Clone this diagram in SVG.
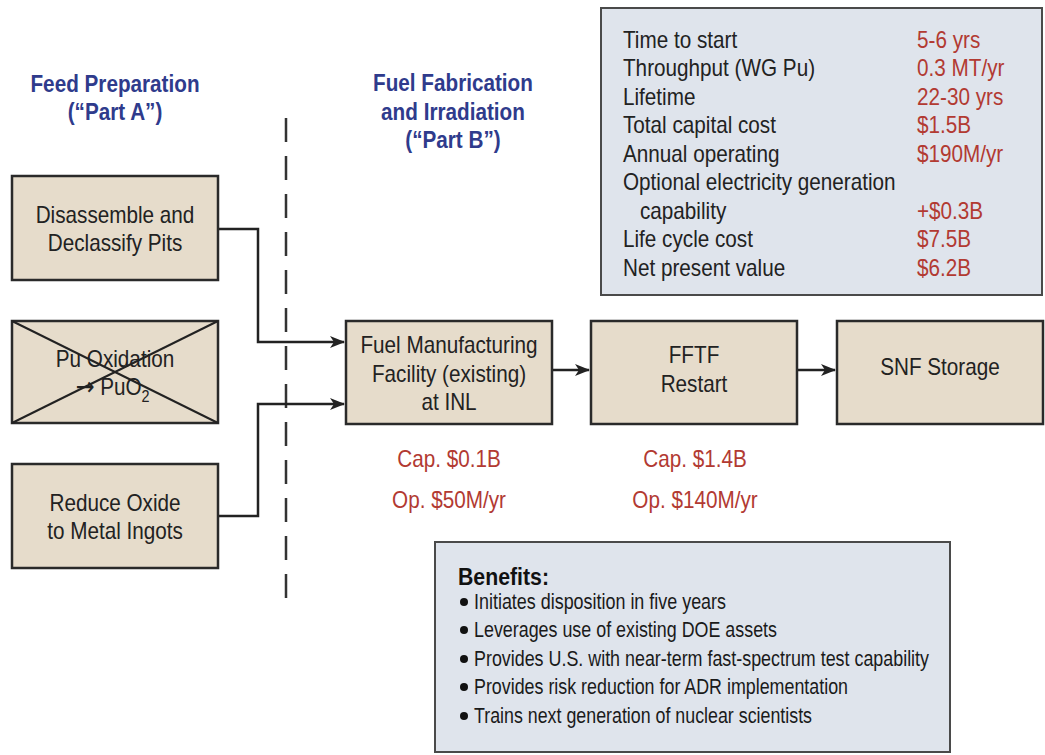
<svg xmlns="http://www.w3.org/2000/svg" width="1045" height="755" viewBox="0 0 1045 755">
<style>
  text { font-family: "Liberation Sans", Arial, sans-serif; }
  .box { fill: #e6dccb; stroke: #2a2a2a; stroke-width: 2.5; }
  .panel { fill: #dfe4ec; stroke: #4a4a4a; stroke-width: 2; }
  .t { font-size: 23px; fill: #222; }
  .c { text-anchor: middle; }
  .title { font-size: 23px; font-weight: bold; fill: #2f3b8c; text-anchor: middle; }
  .red { font-size: 23px; fill: #b23a32; }
  .b { font-size: 22.5px; fill: #1a1a1a; }
  .conn { fill: none; stroke: #222; stroke-width: 2.5; }
  .x { stroke: #222; stroke-width: 2; }
</style>
<defs>
  <marker id="arr" markerWidth="16" markerHeight="12" refX="14" refY="6" orient="auto" markerUnits="userSpaceOnUse">
    <path d="M0,0 L15,6 L0,12 L4,6 Z" fill="#222"/>
  </marker>
</defs>
<rect width="1045" height="755" fill="#ffffff"/>

<g id="title-a" transform="scale(0.9,1)">
  <text class="title" x="127.8" y="92">Feed Preparation</text>
  <text class="title" x="127.8" y="120">(“Part A”)</text>
</g>
<g id="title-b" transform="scale(0.9,1)">
  <text class="title" x="503.3" y="91">Fuel Fabrication</text>
  <text class="title" x="503.3" y="120">and Irradiation</text>
  <text class="title" x="503.3" y="148">(“Part B”)</text>
</g>

<g id="divider">
  <line x1="286" y1="118" x2="286" y2="612" stroke="#333" stroke-width="2.5" stroke-dasharray="24,14"/>
</g>

<g id="connectors">
  <polyline class="conn" points="218,229 258,229 258,342 344,342" marker-end="url(#arr)"/>
  <polyline class="conn" points="218,516 258,516 258,404 344,404" marker-end="url(#arr)"/>
  <line class="conn" x1="552" y1="370" x2="589" y2="370" marker-end="url(#arr)"/>
  <line class="conn" x1="797" y1="370" x2="835" y2="370" marker-end="url(#arr)"/>
</g>

<g id="disassemble">
  <rect class="box" x="12" y="176" width="206" height="104"/>
  <g transform="scale(0.9,1)">
    <text class="t c" x="127.8" y="223">Disassemble and</text>
    <text class="t c" x="127.8" y="251">Declassify Pits</text>
  </g>
</g>

<g id="pu-oxidation">
  <rect class="box" x="12" y="321" width="206" height="102"/>
  <g transform="scale(0.9,1)">
    <text class="t c" x="127.8" y="367">Pu Oxidation</text>
    <text class="t" x="84" y="395"><tspan font-family="DejaVu Sans, sans-serif" font-size="25">→</tspan> PuO<tspan font-size="16" dy="7">2</tspan></text>
  </g>
  <line class="x" x1="12" y1="321" x2="218" y2="423"/>
  <line class="x" x1="218" y1="321" x2="12" y2="423"/>
</g>

<g id="reduce-oxide">
  <rect class="box" x="12" y="464" width="206" height="104"/>
  <g transform="scale(0.9,1)">
    <text class="t c" x="127.8" y="511">Reduce Oxide</text>
    <text class="t c" x="127.8" y="539">to Metal Ingots</text>
  </g>
</g>

<g id="fuel-manufacturing">
  <rect class="box" x="346" y="321" width="206" height="103"/>
  <g transform="scale(0.9,1)">
    <text class="t c" x="498.9" y="353">Fuel Manufacturing</text>
    <text class="t c" x="498.9" y="382">Facility (existing)</text>
    <text class="t c" x="498.9" y="410">at INL</text>
  </g>
</g>

<g id="fftf">
  <rect class="box" x="591" y="321" width="206" height="103"/>
  <g transform="scale(0.9,1)">
    <text class="t c" x="771.1" y="363">FFTF</text>
    <text class="t c" x="771.1" y="392">Restart</text>
  </g>
</g>

<g id="snf-storage">
  <rect class="box" x="837" y="321" width="206" height="103"/>
  <g transform="scale(0.9,1)">
    <text class="t c" x="1044.4" y="375">SNF Storage</text>
  </g>
</g>

<g id="fmf-costs" transform="scale(0.9,1)">
  <text class="red c" x="498.9" y="467">Cap. $0.1B</text>
  <text class="red c" x="498.9" y="508">Op. $50M/yr</text>
</g>
<g id="fftf-costs" transform="scale(0.9,1)">
  <text class="red c" x="772.2" y="467">Cap. $1.4B</text>
  <text class="red c" x="772.2" y="508">Op. $140M/yr</text>
</g>

<g id="summary-table">
  <rect class="panel" x="601" y="8" width="441" height="287"/>
  <g transform="scale(0.9,1)">
    <text class="t" x="692.2" y="48">Time to start</text>
    <text class="t" x="692.2" y="76.5">Throughput (WG Pu)</text>
    <text class="t" x="692.2" y="105">Lifetime</text>
    <text class="t" x="692.2" y="133.5">Total capital cost</text>
    <text class="t" x="692.2" y="162">Annual operating</text>
    <text class="t" x="692.2" y="190.5">Optional electricity generation</text>
    <text class="t" x="711.1" y="219">capability</text>
    <text class="t" x="692.2" y="247.5">Life cycle cost</text>
    <text class="t" x="692.2" y="276">Net present value</text>
    <text class="red" x="1018.9" y="48">5-6 yrs</text>
    <text class="red" x="1018.9" y="76.5">0.3 MT/yr</text>
    <text class="red" x="1018.9" y="105">22-30 yrs</text>
    <text class="red" x="1018.9" y="133.5">$1.5B</text>
    <text class="red" x="1018.9" y="162">$190M/yr</text>
    <text class="red" x="1018.9" y="219">+$0.3B</text>
    <text class="red" x="1018.9" y="247.5">$7.5B</text>
    <text class="red" x="1018.9" y="276">$6.2B</text>
  </g>
</g>

<g id="benefits">
  <rect class="panel" x="435" y="542" width="515" height="210"/>
  <text x="458" y="585" font-size="23" font-weight="bold" fill="#111" textLength="91" lengthAdjust="spacingAndGlyphs">Benefits:</text>
  <circle cx="464" cy="602" r="4" fill="#111"/>
  <circle cx="464" cy="630" r="4" fill="#111"/>
  <circle cx="464" cy="659" r="4" fill="#111"/>
  <circle cx="464" cy="687" r="4" fill="#111"/>
  <circle cx="464" cy="716" r="4" fill="#111"/>
  <text class="b" x="474" y="609" textLength="252" lengthAdjust="spacingAndGlyphs">Initiates disposition in five years</text>
  <text class="b" x="474" y="637" textLength="303" lengthAdjust="spacingAndGlyphs">Leverages use of existing DOE assets</text>
  <text class="b" x="474" y="666" textLength="455" lengthAdjust="spacingAndGlyphs">Provides U.S. with near-term fast-spectrum test capability</text>
  <text class="b" x="474" y="694" textLength="374" lengthAdjust="spacingAndGlyphs">Provides risk reduction for ADR implementation</text>
  <text class="b" x="474" y="723" textLength="338" lengthAdjust="spacingAndGlyphs">Trains next generation of nuclear scientists</text>
</g>
</svg>
